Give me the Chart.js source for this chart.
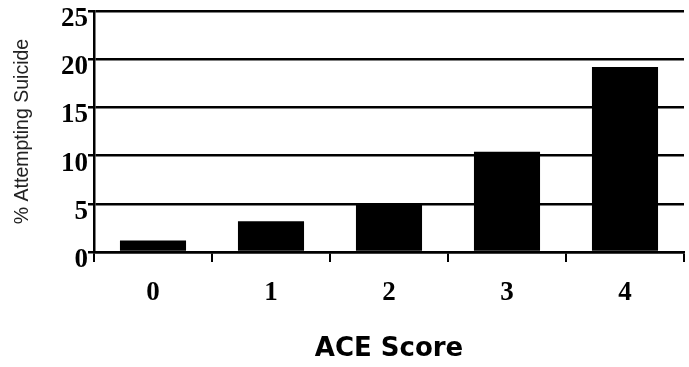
<!DOCTYPE html>
<html><head><meta charset="utf-8">
<script src="https://cdn.jsdelivr.net/npm/chart.js@4"></script>
<style>html,body{margin:0;padding:0;background:#fff}#wrap{width:689px;height:367px}</style>
</head><body><div id="wrap"><canvas id="c" width="689" height="367"></canvas></div>
<script>
const categories = ["0", "1", "2", "3", "4"];
const attemptingSuicide = [1.2, 3.2, 4.9, 10.4, 19.2];
const yTicks = [0, 5, 10, 15, 20, 25];
const xTitle = "ACE Score";
const yTitle = "% Attempting Suicide";

new Chart(document.getElementById('c'), {
  type: 'bar',
  data: { labels: categories, datasets: [{ data: attemptingSuicide, backgroundColor: '#000', borderWidth: 0, barPercentage: 0.56, categoryPercentage: 1 }] },
  options: {
    responsive: false, animation: false,
    layout: { padding: { top: 11, right: 5, left: 0, bottom: 0 } },
    plugins: { legend: { display: false }, tooltip: { enabled: false } },
    scales: {
      x: {
        grid: { display: true, drawOnChartArea: false, offset: true, color: '#000', lineWidth: 2, tickLength: 10 },
        border: { color: '#000', width: 2.5 },
        ticks: { color: '#000', font: { family: 'Liberation Serif', weight: 'bold', size: 27 }, padding: 15 },
        title: { display: true, text: xTitle, color: '#000', font: { family: 'DejaVu Sans', weight: 'bold', size: 26 }, padding: { top: 14, bottom: 2 } },
        afterFit: s => { s.height = 115; }
      },
      y: {
        min: 0, max: 25,
        afterBuildTicks: s => { s.ticks = yTicks.map(v => ({ value: v })); },
        grid: { color: '#000', lineWidth: 2.5, tickLength: 6, drawTicks: true },
        border: { color: '#000', width: 2.5 },
        ticks: { color: '#000', font: { family: 'Liberation Serif', weight: 'bold', size: 27 }, padding: 0, labelOffset: 8 },
        title: { display: true, text: yTitle, color: '#222', font: { family: 'Liberation Sans', size: 19.5 }, padding: { top: 11, bottom: 0 } },
        afterFit: s => { s.width = 94; s.paddingTop = 0; s.paddingBottom = 0; }
      }
    }
  }
});
</script></body></html>
